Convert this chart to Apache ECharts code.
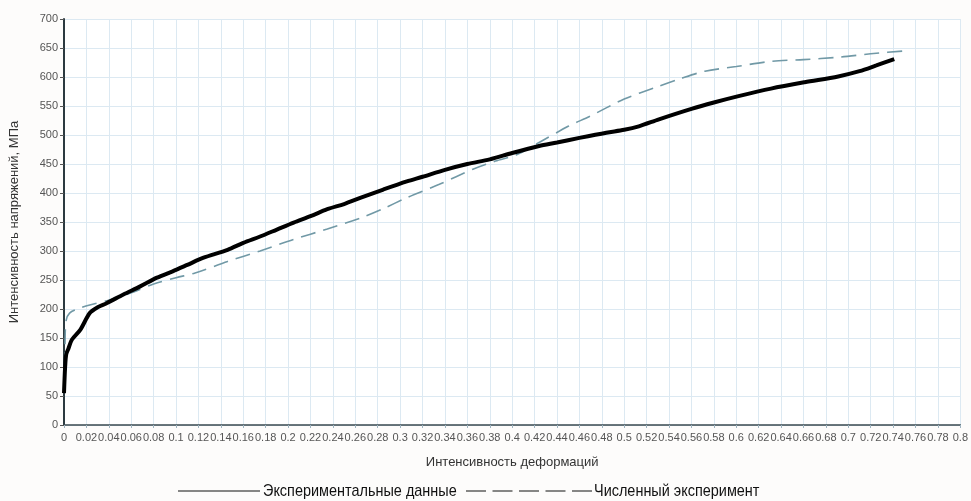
<!DOCTYPE html>
<html><head><meta charset="utf-8">
<script src="https://cdn.jsdelivr.net/npm/echarts@6/dist/echarts.min.js"></script>
<style>html,body{margin:0;padding:0;background:#fdfcfb;}#c{width:971px;height:501px;}</style>
</head><body><div id="c"></div>
<script>
var xAxisName = 'Интенсивность деформаций';
var yAxisName = 'Интенсивность напряжений, МПа';
var seriesNames = ['Экспериментальные данные', 'Численный эксперимент'];

var experimental = [
  [0,55],[0.001,100],[0.002,122],[0.004,132],[0.007,147],[0.0145,164],[0.023,193],
  [0.03,203],[0.038,210],[0.053,225],[0.068,239],[0.083,254],[0.097,265],[0.11,276],
  [0.124,288],[0.146,302],[0.16,314],[0.175,325],[0.19,337],[0.205,349],[0.22,360],
  [0.235,372],[0.25,381],[0.265,392],[0.285,406],[0.306,420],[0.32,428],[0.34,440],
  [0.36,450],[0.38,458],[0.40,469],[0.424,481],[0.44,487],[0.46,495],[0.484,504],
  [0.50,509],[0.513,515],[0.531,527],[0.56,545],[0.58,556],[0.602,567],[0.631,580],
  [0.661,591],[0.691,601],[0.71,610],[0.725,620],[0.741,631]
];
var numerical = [
  [0.0005,60],[0.001,150],[0.002,181],[0.005,193],[0.012,200],[0.023,207],[0.04,215],
  [0.06,228],[0.08,243],[0.1,254],[0.117,262],[0.146,282],[0.175,300],[0.205,320],
  [0.235,338],[0.265,357],[0.285,373],[0.306,392],[0.335,415],[0.365,441],[0.385,455],
  [0.404,466],[0.424,487],[0.45,515],[0.469,532],[0.5,562],[0.528,582],[0.55,597],
  [0.572,610],[0.6,618],[0.631,627],[0.66,630],[0.691,634],[0.72,640],[0.75,645],[0.755,646]
];

var legendTextStyle = {fill: '#111', font: '17px "Liberation Sans", Arial, sans-serif', textAlign: 'left', textVerticalAlign: 'middle'};

var chart = echarts.init(document.getElementById('c'));
chart.setOption({
  backgroundColor: '#fdfcfb',
  animation: false,
  grid: {left: 62, right: 8, top: 19, bottom: 76, backgroundColor: '#ffffff', show: true, borderWidth: 0},
  graphic: [
    {type: 'line', shape: {x1: 178, y1: 491, x2: 260, y2: 491}, style: {stroke: '#111', lineWidth: 1.2}},
    {type: 'text', x: 263, y: 491, scaleX: 0.85, style: Object.assign({text: seriesNames[0]}, legendTextStyle)},
    {type: 'line', shape: {x1: 466, y1: 491, x2: 592, y2: 491}, style: {stroke: '#111', lineWidth: 1.2, lineDash: [20, 6.5]}},
    {type: 'text', x: 594, y: 491, scaleX: 0.85, style: Object.assign({text: seriesNames[1]}, legendTextStyle)}
  ],
  xAxis: {
    type: 'value', min: 0, max: 0.8, interval: 0.02,
    name: xAxisName, nameLocation: 'middle', nameGap: 31,
    nameTextStyle: {fontSize: 13, color: '#333', fontFamily: 'Liberation Sans'},
    axisLine: {lineStyle: {color: '#3a4a50', width: 1.5}},
    axisTick: {show: true, length: 3, lineStyle: {color: '#9fb4c0'}},
    axisLabel: {fontSize: 11, color: '#555', fontFamily: 'Liberation Sans', margin: 7},
    splitLine: {lineStyle: {color: '#dce9f2', width: 1}}
  },
  yAxis: {
    type: 'value', min: 0, max: 700, interval: 50,
    name: yAxisName, nameLocation: 'middle', nameGap: 43,
    nameTextStyle: {fontSize: 13, color: '#333', fontFamily: 'Liberation Sans'},
    axisLine: {show: true, lineStyle: {color: '#2c3a40', width: 2}},
    axisTick: {show: true, length: 4, lineStyle: {color: '#555'}},
    axisLabel: {fontSize: 11, color: '#555', fontFamily: 'Liberation Sans', margin: 6},
    splitLine: {lineStyle: {color: '#dce9f2', width: 1}}
  },
  series: [
    {name: seriesNames[0], type: 'line', data: experimental, symbol: 'none', smooth: 0.3,
     lineStyle: {color: '#000', width: 4}, itemStyle: {color: '#000'}, z: 3},
    {name: seriesNames[1], type: 'line', data: numerical, symbol: 'none', smooth: 0.3,
     lineStyle: {color: '#7199a6', width: 1.6, type: [15, 8]}, itemStyle: {color: '#7199a6'}, z: 2}
  ]
});
</script></body></html>
